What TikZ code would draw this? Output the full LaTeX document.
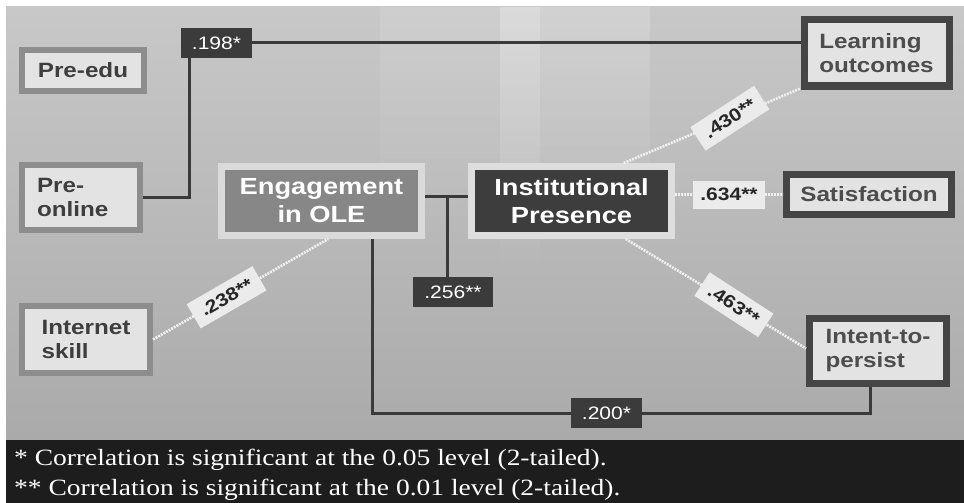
\documentclass[tikz,border=0pt]{standalone}
\usepackage{fontspec}
\setmainfont{Liberation Serif}[FakeStretch=1.18]
\newfontfamily\boxfont{Liberation Sans}[FakeStretch=1.17]
\usetikzlibrary{positioning,fadings}
\definecolor{bgtop}{HTML}{C8C8C8}
\definecolor{bgbot}{HTML}{AAAAAA}
\definecolor{footbg}{HTML}{1D1D1D}
\definecolor{varborder}{HTML}{8D8D8D}
\definecolor{boxfill}{HTML}{E3E3E3}
\definecolor{vartext}{HTML}{3E3E3E}
\definecolor{outframe}{HTML}{454545}
\definecolor{outtext}{HTML}{4D4D4D}
\definecolor{engfill}{HTML}{878787}
\definecolor{engframe}{HTML}{DADADA}
\definecolor{ipfill}{HTML}{3D3D3D}
\definecolor{ipframe}{HTML}{DEDEDE}
\definecolor{coefdark}{HTML}{3B3B3B}
\definecolor{coeflight}{HTML}{EBEBEB}
\definecolor{linedark}{HTML}{3A3A3A}
\definecolor{linelight}{HTML}{EFEFEF}
\tikzset{
  varbox/.style={draw=varborder, line width=6pt, fill=boxfill, text=vartext, align=left,
    inner sep=0pt, font=\boxfont\fontsize{20.7}{24}\selectfont\bfseries},
  outbox/.style={varbox, draw=outframe, line width=7pt, text=outtext},
  midbox/.style={line width=7pt, text=white, align=center, inner sep=0pt,
    font=\boxfont\fontsize{23.3}{28}\selectfont\bfseries},
  darkcoef/.style={fill=coefdark, text=white, inner sep=0pt, minimum width=71pt, minimum height=30pt,
    font=\boxfont\fontsize{18}{20}\selectfont},
  lightcoef/.style={fill=coeflight, text=black!85, inner sep=0pt, minimum width=76pt, minimum height=28pt,
    font=\boxfont\fontsize{18}{20}\selectfont\bfseries},
  darkline/.style={draw=linedark, line width=3pt},
  lightline/.style={draw=linelight, line width=2.6pt, dash pattern=on 2pt off 1pt},
  footnote/.style={anchor=base west, inner sep=0pt, text=white, font=\fontsize{23.3}{26}\selectfont}
}
\begin{document}
\begin{tikzpicture}[x=1pt, y=-1pt]
\useasboundingbox (0,0) rectangle (964,503);
% backdrop
\shade[top color=bgtop, bottom color=bgbot] (6,7) rectangle (964,440);
\fill[white, opacity=.12, path fading=south] (380,7) rectangle (500,240);
\fill[white, opacity=.35, path fading=south] (500,7) rectangle (540,270);
\fill[white, opacity=.18, path fading=south] (540,7) rectangle (650,250);
\fill[footbg] (6,440) rectangle (964,503);

\node[varbox, minimum width=122pt, minimum height=41pt] (preedu) at (83,70.5) {Pre-edu};
\node[varbox, minimum width=118pt, minimum height=65pt, text width=88pt] (preonline) at (81,197.5) {Pre-\\online};
\node[varbox, minimum width=128pt, minimum height=67pt] (internet) at (86,339.5) {Internet\\skill};
\node[midbox, fill=engfill, draw=engframe, minimum width=200pt, minimum height=69pt] (engage) at (321.5,201) {Engagement\\in OLE};
\node[midbox, fill=ipfill, draw=ipframe, minimum width=200pt, minimum height=69pt] (inst) at (571.5,201) {Institutional\\Presence};
\node[outbox, minimum width=145pt, minimum height=66pt] (learning) at (876.5,53) {Learning\\outcomes};
\node[outbox, minimum width=165pt, minimum height=40pt] (satisf) at (869,194.5) {Satisfaction};
\node[outbox, minimum width=137pt, minimum height=65pt] (intent) at (878,351) {Intent-to-\\persist};

\node[darkcoef] (c198) at (216.5,43) {.198*};
\node[darkcoef, minimum width=80pt] (c256) at (453,292) {.256**};
\node[darkcoef] (c200) at (606.5,413) {.200*};

% solid links
\draw[darkline] (preonline.east) -| ([xshift=9pt]c198.south west);
\draw[darkline] (c198.east) -- (c198.east -| learning.west);
\coordinate (jn) at (447,196);
\draw[darkline] (engage.east |- jn) -- (inst.west |- jn);
\draw[darkline] (jn) -- (jn |- c256.north);
\draw[darkline] ([xshift=50.5pt]engage.south) |- (c200.west);
\draw[darkline] (c200.east) -| ([xshift=-8pt]intent.south);

% dotted links
\path (inst.36) edge[lightline] node[lightcoef, rotate=33, pos=.6] (c430) {.430**} (learning.205)
      (inst.east |- satisf.west) edge[lightline] node[lightcoef, minimum width=72pt] (c634) {.634**} (satisf.west)
      (inst.-35) edge[lightline] node[lightcoef, rotate=-33, pos=.6] (c463) {.463**} (intent.178)
      (internet.east) edge[lightline] node[lightcoef, rotate=30, pos=.42] (c238) {.238**} (engage.-80);

\node[footnote] (note1) at (14,465) {* Correlation is significant at the 0.05 level (2-tailed).};
\node[footnote] (note2) at (14,495) {** Correlation is significant at the 0.01 level (2-tailed).};
\end{tikzpicture}
\end{document}
